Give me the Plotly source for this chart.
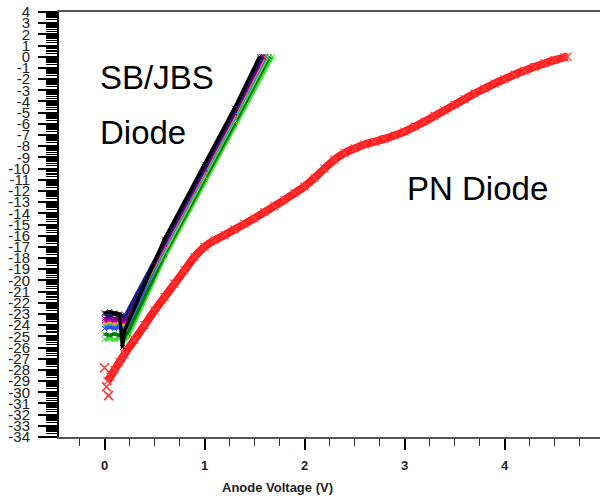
import math
import plotly.graph_objects as go

# ---------------- data ----------------
# PN diode: anode voltage (V) vs log10(current)
pn_v = [0.03, 0.06, 0.1, 0.15, 0.2, 0.3, 0.4, 0.5, 0.6, 0.7, 0.8, 0.9, 1.0, 1.1, 1.2,
        1.3, 1.4, 1.5, 1.6, 1.7, 1.8, 1.9, 2.0, 2.1, 2.2, 2.3, 2.4, 2.5, 2.6, 2.7,
        2.8, 2.9, 3.0, 3.1, 3.2, 3.3, 3.4, 3.5, 3.6, 3.7, 3.8, 3.9, 4.0, 4.1, 4.2,
        4.3, 4.4, 4.5, 4.6, 4.63]
pn_logI = [-29.0, -28.6, -28.0, -27.3, -26.6, -25.3, -24.0, -22.7, -21.5, -20.3, -19.1, -17.9,
           -17.0, -16.4, -15.95, -15.45, -14.95, -14.45, -13.9, -13.35, -12.8, -12.2, -11.6, -10.85,
           -10.0, -9.2, -8.6, -8.2, -7.85, -7.6, -7.35, -7.05, -6.7, -6.25, -5.8, -5.3, -4.8,
           -4.3, -3.8, -3.3, -2.85, -2.4, -2.0, -1.6, -1.25, -0.9, -0.6, -0.3, -0.05, 0.0]
pn_start_v = [0.0, 0.02, 0.04]
pn_start_logI = [-27.8, -29.5, -30.3]

# SB/JBS diodes (several devices)
sb_colors = ["#40e040", "#008000", "#d0d000", "#00c0c0", "#3050ff",
             "#ffa500", "#c000c0", "#800080", "#1a1a80", "#000000"]
sb_v = [
    [0.0, 0.05, 0.1, 0.15, 0.2, 0.24, 0.6, 1.0, 1.3, 1.68],
    [0.0, 0.05, 0.1, 0.15, 0.2, 0.23, 0.6, 1.0, 1.3, 1.65],
    [0.0, 0.05, 0.1, 0.15, 0.2, 0.22, 0.6, 1.0, 1.3, 1.63],
    [0.0, 0.05, 0.1, 0.15, 0.2, 0.22, 0.6, 1.0, 1.3, 1.62],
    [0.0, 0.05, 0.1, 0.15, 0.2, 0.22, 0.6, 1.0, 1.3, 1.61],
    [0.0, 0.05, 0.1, 0.15, 0.2, 0.21, 0.6, 1.0, 1.3, 1.60],
    [0.0, 0.05, 0.1, 0.15, 0.2, 0.21, 0.6, 1.0, 1.3, 1.59],
    [0.0, 0.05, 0.1, 0.15, 0.2, 0.21, 0.6, 1.0, 1.3, 1.58],
    [0.0, 0.05, 0.1, 0.15, 0.2, 0.21, 0.6, 1.0, 1.3, 1.57],
    [0.0, 0.05, 0.1, 0.15, 0.18, 0.2, 0.6, 1.0, 1.3, 1.55],
]
sb_logI = [
    [-25.3, -25.2, -25.3, -25.2, -25.4, -25.0, -18.0, -11.3, -6.3, 0.0],
    [-24.8, -24.9, -24.8, -24.9, -25.0, -24.7, -17.7, -11.0, -6.0, 0.0],
    [-23.7, -23.8, -23.7, -23.8, -23.9, -23.8, -17.4, -10.7, -5.7, 0.0],
    [-24.0, -24.1, -24.0, -24.1, -24.2, -24.0, -17.2, -10.5, -5.5, 0.0],
    [-24.3, -24.2, -24.3, -24.2, -24.4, -24.2, -17.0, -10.3, -5.3, 0.0],
    [-23.8, -23.7, -23.8, -23.7, -23.9, -23.8, -16.9, -10.2, -5.2, 0.0],
    [-23.6, -23.5, -23.6, -23.5, -23.7, -23.6, -16.8, -10.1, -5.1, 0.0],
    [-23.4, -23.3, -23.4, -23.3, -23.5, -23.4, -16.7, -10.0, -5.0, 0.0],
    [-23.0, -23.1, -23.0, -23.1, -23.2, -23.1, -16.5, -9.8, -4.8, 0.0],
    [-22.9, -22.8, -22.9, -23.0, -26.0, -24.5, -16.3, -9.6, -4.6, 0.0],
]

y_ticks = list(range(-34, 5))
x_ticks = [0, 1, 2, 3, 4]

# ---------------- figure ----------------
fig = go.Figure()

for c, xv, yv in zip(sb_colors, sb_v, sb_logI):
    fig.add_trace(go.Scatter(x=xv, y=yv, mode="lines+markers",
                             line=dict(color=c, width=3.5),
                             marker=dict(color=c, size=5, symbol="x-thin",
                                         line=dict(color=c, width=1)),
                             showlegend=False))

fig.add_trace(go.Scatter(x=pn_v, y=pn_logI, mode="lines+markers",
                         line=dict(color="rgba(255,10,10,0.92)", width=8, shape="spline",
                                   smoothing=0.6),
                         marker=dict(color="red", size=8, symbol="x-thin",
                                     line=dict(color="#ff4040", width=1.2)),
                         showlegend=False))
fig.add_trace(go.Scatter(x=pn_start_v, y=pn_start_logI, mode="markers",
                         marker=dict(color="red", size=9, symbol="x-thin",
                                     line=dict(color="#ff3030", width=1.5)),
                         showlegend=False))

minor_vals = [n + math.log10(k) for n in range(-34, 4) for k in range(2, 10)]

FONT = "Liberation Sans, Arial, sans-serif"

fig.update_layout(
    width=600, height=496,
    margin=dict(l=59, r=0, t=12, b=59),
    paper_bgcolor="white", plot_bgcolor="white",
    font=dict(family=FONT, color="black"),
    xaxis=dict(range=[-0.455, 4.955], showgrid=False, zeroline=False,
               showline=True, linecolor="#555555", linewidth=1.5, mirror=True,
               tickmode="array", tickvals=x_ticks, ticktext=[str(t) for t in x_ticks],
               ticks="outside", ticklen=11, tickwidth=2, tickcolor="black",
               ticklabelstandoff=5,
               tickfont=dict(family=FONT, size=13, color="#222222", weight="bold"),
               minor=dict(tickmode="array",
                          tickvals=[-0.25, 0.25, 0.5, 0.75, 1.25, 1.5, 1.75, 2.25, 2.5, 2.75,
                                    3.25, 3.5, 3.75, 4.25, 4.5, 4.75],
                          ticks="outside", ticklen=7, tickwidth=1, tickcolor="#333333")),
    yaxis=dict(range=[-34, 4], showgrid=False, zeroline=False,
               showline=True, linecolor="black", linewidth=2,
               tickmode="array", tickvals=y_ticks, ticktext=[str(t) for t in y_ticks],
               ticks="outside", ticklen=19, tickwidth=2, tickcolor="black",
               ticklabelstandoff=5,
               tickfont=dict(family=FONT, size=15, color="#222222"),
               minor=dict(tickmode="array", tickvals=minor_vals,
                          ticks="outside", ticklen=11, tickwidth=1, tickcolor="black")),
    annotations=[
        dict(text="SB/JBS", x=-0.065, y=-1.9, xref="x", yref="y", xanchor="left",
             yanchor="middle", showarrow=False, font=dict(family=FONT, size=33, color="black")),
        dict(text="Diode", x=-0.065, y=-6.73, xref="x", yref="y", xanchor="left",
             yanchor="middle", showarrow=False, font=dict(family=FONT, size=33, color="black")),
        dict(text="PN Diode", x=3.005, y=-11.8, xref="x", yref="y", xanchor="left",
             yanchor="middle", showarrow=False, font=dict(family=FONT, size=33, color="black")),
        dict(text="<b>Anode Voltage (V)</b>", x=1.725, y=0, xref="x", yref="paper",
             yshift=-50, xanchor="center", yanchor="middle", showarrow=False,
             font=dict(family=FONT, size=13, color="#222222")),
    ],
)

fig.write_html("out.html")
